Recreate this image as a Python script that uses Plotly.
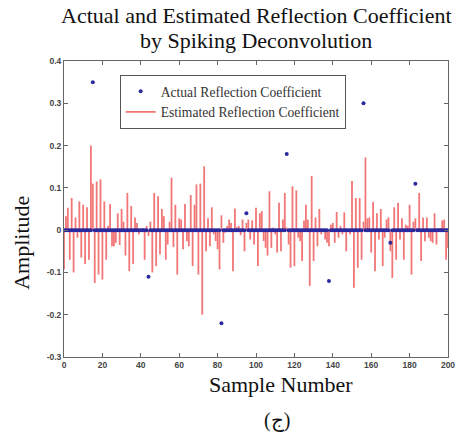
import plotly.graph_objects as go

# Sample axis
samples = list(range(0, 201))

# Estimated reflection coefficient (spiking deconvolution output), samples 0..200
estimated = [
    -0.093, 0.033, 0.053, -0.07, 0.076, -0.10, 0.03, -0.018, 0.068, -0.065,
    0.06, -0.08, 0.054, -0.07, 0.20, 0.11, -0.125, 0.115, -0.105, 0.12,
    -0.117, 0.068, -0.07, 0.01, 0.062, -0.038, -0.038, -0.03, 0.04, -0.035,
    0.05, 0.02, -0.06, 0.088, -0.097, 0.057, -0.08, 0.03, 0.017, -0.01,
    0.003, 0.005, -0.07, 0.01, -0.014, 0.02, -0.10, 0.088, -0.085,
    0.08, -0.057, 0.05, 0.033, -0.07, -0.034, 0.02, 0.124, -0.04, 0.06,
    -0.105, 0.028, 0.025, -0.045, 0.062, -0.026, -0.038, 0.083, -0.085, 0.06,
    0.108, -0.105, 0.11, -0.20, 0.151, -0.05, 0.028, -0.038, 0.054, -0.01,
    -0.026, -0.045, -0.093, 0.035, -0.03, -0.006, 0.01, 0.025, 0.017, -0.097,
    0.051, 0.007, 0.01, -0.012, 0.025, -0.05, 0.017, 0.025, -0.022, 0.023,
    -0.034, 0.053, -0.085,
    0.04, 0.045, -0.026, -0.042, -0.06, 0.092, -0.042, 0.006, -0.01, -0.053,
    0.065, -0.05, 0.025, 0.088, 0.006, -0.034, -0.089, 0.104, -0.085, 0.094,
    -0.018, -0.026, -0.073, 0.023, 0.06, 0.025, -0.132, 0.128, -0.073, 0.03,
    -0.038, 0.05, -0.01, 0.0, -0.022, -0.03, -0.038, 0.013, 0.017, -0.03,
    0.043, -0.018, 0.01, -0.01, 0.042, -0.05, -0.002, -0.01, 0.116, -0.136,
    0.076,
    -0.089, 0.076, -0.07, 0.02, 0.172, 0.028, 0.03, -0.053, 0.067, -0.097,
    0.04, -0.022, 0.05, -0.085, -0.018, 0.025, 0.03, -0.05, -0.113, 0.054,
    -0.07, 0.065, -0.022, 0.028, -0.07, 0.013, 0.01, 0.06, -0.105, 0.02,
    0.028, 0.005, 0.088, -0.073, 0.03, -0.026, 0.03, -0.018, -0.026, -0.03,
    0.04, -0.034, 0.005, 0.005, 0.023, 0.025, -0.07, -0.042,
]

# Actual reflection coefficient: zero except at these spikes
spike_samples = [15, 44, 82, 95, 116, 138, 156, 170, 183]
spike_values = [0.35, -0.11, -0.22, 0.04, 0.18, -0.12, 0.30, -0.03, 0.11]

x_ticks = [0, 20, 40, 60, 80, 100, 120, 140, 160, 180, 200]
y_ticks = [-0.3, -0.2, -0.1, 0.0, 0.1, 0.2, 0.3, 0.4]
y_tick_labels = ["-0.3", "-0.2", "-0.1", "0", "0.1", "0.2", "0.3", "0.4"]

actual = [0.0] * len(samples)
for s, v in zip(spike_samples, spike_values):
    actual[samples.index(s)] = v

# Stem segments from zero to each estimated value
stem_x, stem_y = [], []
for s, v in zip(samples, estimated):
    stem_x += [s, s, None]
    stem_y += [0, v, None]

SERIF = "Liberation Serif, Times New Roman, serif"
SANS = "Liberation Sans, Arial, sans-serif"

fig = go.Figure()
fig.add_trace(go.Scatter(
    x=stem_x, y=stem_y, mode="lines",
    line=dict(color="rgb(242,118,118)", width=1.8),
    name="Estimated Reflection Coefficient", legendrank=2,
    hoverinfo="skip",
))
fig.add_trace(go.Scatter(
    x=samples, y=actual, mode="markers",
    marker=dict(color="#2a2a9e", size=4, line=dict(width=0)),
    name="Actual Reflection Coefficient", legendrank=1,
))

axis_common = dict(
    showgrid=False, zeroline=False, showline=True, mirror="ticks",
    linecolor="#666", linewidth=1, ticks="inside", ticklen=4,
    tickcolor="#666", tickwidth=1,
    tickfont=dict(family=SANS, size=8.5, color="#444", weight="bold"),
)

fig.update_layout(
    width=465, height=436,
    margin=dict(l=64, r=10, t=61, b=79),
    paper_bgcolor="white", plot_bgcolor="white",
    xaxis=dict(range=[0, 200], tickvals=x_ticks, **axis_common),
    yaxis=dict(range=[-0.3, 0.4], tickvals=y_ticks, ticktext=y_tick_labels,
               **axis_common),
    showlegend=True,
    legend=dict(
        x=0.145, y=0.953, xanchor="left", yanchor="top",
        bordercolor="#555", borderwidth=1, bgcolor="white",
        font=dict(family=SERIF, size=13.6, color="#333"),
        itemwidth=30, tracegroupgap=0,
    ),
    annotations=[
        dict(text="Actual and Estimated Reflection Coefficient",
             x=0.5, y=1.1537, xref="paper", yref="paper",
             xanchor="center", yanchor="middle", showarrow=False,
             font=dict(family=SERIF, size=22, color="#111")),
        dict(text="by Spiking Deconvolution",
             x=0.5, y=1.0693, xref="paper", yref="paper",
             xanchor="center", yanchor="middle", showarrow=False,
             font=dict(family=SERIF, size=22, color="#111")),
        dict(text="Amplitude", textangle=-90,
             x=-0.1125, y=0.385, xref="paper", yref="paper",
             xanchor="center", yanchor="middle", showarrow=False,
             font=dict(family=SERIF, size=22, color="#111")),
        dict(text="Sample Number",
             x=0.565, y=-0.092, xref="paper", yref="paper",
             xanchor="center", yanchor="middle", showarrow=False,
             font=dict(family=SERIF, size=22, color="#111")),
        dict(text="(ج)",
             x=0.555, y=-0.213, xref="paper", yref="paper",
             xanchor="center", yanchor="middle", showarrow=False,
             font=dict(family=SERIF, size=20, color="#111")),
    ],
)

fig.write_html("out.html")
